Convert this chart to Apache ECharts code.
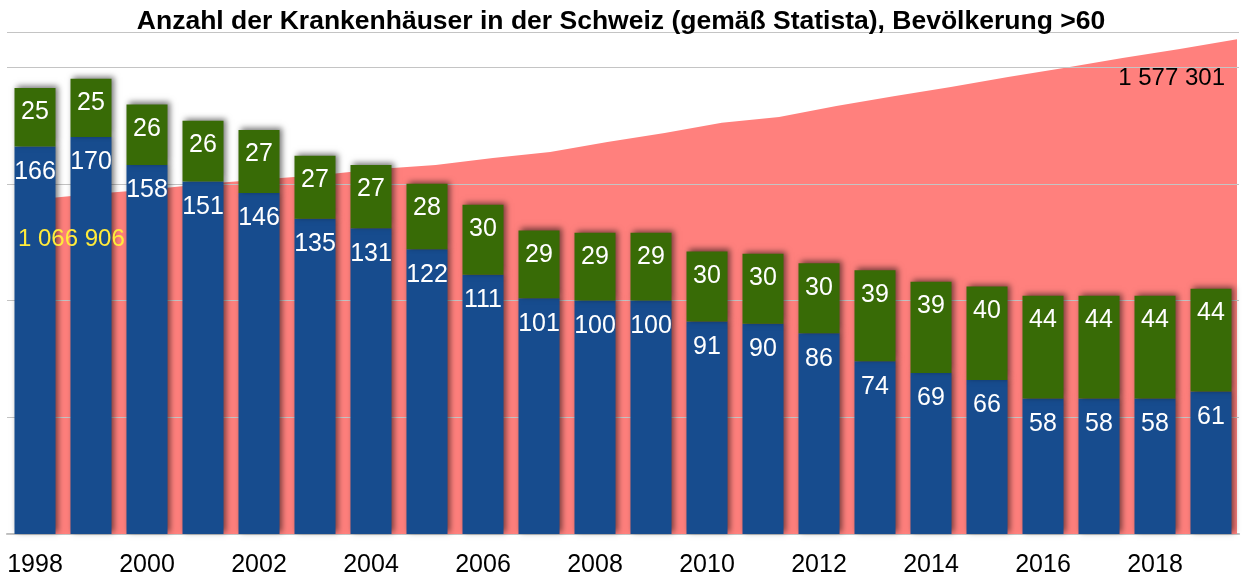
<!DOCTYPE html>
<html>
<head>
<meta charset="utf-8">
<script src="https://cdn.jsdelivr.net/npm/echarts@6/dist/echarts.min.js"></script>
<style>
  html, body { margin: 0; padding: 0; background: #fff; }
  #container { width: 1242px; height: 578px; }
</style>
</head>
<body>
<div id="container"></div>
<script>
let years = ['1998', '1999', '2000', '2001', '2002', '2003', '2004', '2005', '2006', '2007', '2008',
    '2009', '2010', '2011', '2012', '2013', '2014', '2015', '2016', '2017', '2018', '2019'];

// untere (blaue) und obere (grüne) Balkenteile
let blueData = [166, 170, 158, 151, 146, 135, 131, 122, 111, 101, 100, 100, 91, 90, 86, 74, 69, 66, 58, 58, 58, 61];
let greenData = [25, 25, 26, 26, 27, 27, 27, 28, 30, 29, 29, 29, 30, 30, 30, 39, 39, 40, 44, 44, 44, 44];

// Bevölkerung >60 (Fläche), Zwischenwerte aus dem Bild geschätzt
let popData = [1066906, 1085000, 1099000, 1117000, 1132000, 1145000, 1164000, 1177000, 1199000, 1218000,
    1250000, 1279000, 1311000, 1330000, 1365000, 1396000, 1425000, 1457000, 1486000, 1517000, 1546000, 1577301];

function fmt(v) {
    return String(v).replace(/\B(?=(\d{3})+(?!\d))/g, ' ');
}

var dom = document.getElementById('container');
var myChart = echarts.init(dom, null, { renderer: 'canvas' });

var barShadow = {
    shadowColor: 'rgba(0, 0, 0, 0.55)',
    shadowBlur: 6,
    shadowOffsetX: 2,
    shadowOffsetY: -2
};

// nur erster und letzter Wert werden beschriftet
var last = popData.length - 1;
var popLabelData = popData.map(function (v, i) {
    if (i === 0) {
        return { value: v, label: { align: 'left', offset: [-17, 22], color: '#ffeb3b' } };
    }
    if (i === last) {
        return { value: v, label: { align: 'right', offset: [-12, 22], color: '#000' } };
    }
    return '-';
});

var option = {
    animation: false,
    textStyle: { fontFamily: 'Liberation Sans' },
    title: {
        text: 'Anzahl der Krankenhäuser in der Schweiz (gemäß Statista), Bevölkerung >60',
        left: 'center',
        top: 3,
        textStyle: { fontSize: 26.5, fontWeight: 'bold', color: '#000', fontFamily: 'Liberation Sans' }
    },
    grid: [
        { left: 7, right: 3, top: 32, bottom: 43 },
        { left: 35, right: 5, top: 32, bottom: 43 }
    ],
    xAxis: [
        {
            type: 'category',
            gridIndex: 0,
            data: years,
            axisTick: { show: false },
            axisLine: { lineStyle: { color: '#bdbdbd', width: 2 } },
            axisLabel: { interval: 1, color: '#000', fontSize: 25, margin: 19 }
        },
        {
            type: 'category',
            gridIndex: 1,
            data: years,
            boundaryGap: false,
            show: false
        }
    ],
    yAxis: [
        {
            type: 'value',
            gridIndex: 0,
            min: 0,
            max: 215,
            interval: 50,
            z: 1.5,
            axisLabel: { show: false },
            axisLine: { show: false },
            axisTick: { show: false },
            splitLine: { lineStyle: { color: '#c4c4c4', width: 1 } }
        },
        {
            type: 'value',
            gridIndex: 1,
            min: 0,
            max: 1600000,
            show: false,
            splitLine: { show: false }
        }
    ],
    series: [
        {
            name: 'Bevölkerung >60',
            type: 'line',
            xAxisIndex: 1,
            yAxisIndex: 1,
            z: 1,
            data: popData,
            symbol: 'none',
            lineStyle: { width: 0 },
            areaStyle: { color: '#ff807d', opacity: 1 }
        },
        {
            name: 'blau',
            type: 'bar',
            stack: 'kh',
            z: 3,
            barWidth: 41,
            data: blueData,
            itemStyle: Object.assign({ color: '#174c8e' }, barShadow),
            label: { show: true, position: 'insideTop', distance: 13, color: '#fff', fontSize: 25 }
        },
        {
            name: 'grün',
            type: 'bar',
            stack: 'kh',
            z: 3,
            barWidth: 41,
            data: greenData,
            itemStyle: Object.assign({ color: '#386b06' }, barShadow),
            label: { show: true, position: 'insideTop', distance: 12, color: '#fff', fontSize: 25 }
        },
        {
            name: 'Beschriftung',
            type: 'scatter',
            xAxisIndex: 1,
            yAxisIndex: 1,
            z: 5,
            symbolSize: 1,
            itemStyle: { color: 'rgba(0,0,0,0)', opacity: 1 },
            data: popLabelData,
            label: {
                show: true,
                position: 'bottom',
                fontSize: 24,
                opacity: 1,
                formatter: function (p) { return fmt(p.value); }
            }
        }
    ]
};

myChart.setOption(option);

window.addEventListener('resize', myChart.resize);
</script>
</body>
</html>
